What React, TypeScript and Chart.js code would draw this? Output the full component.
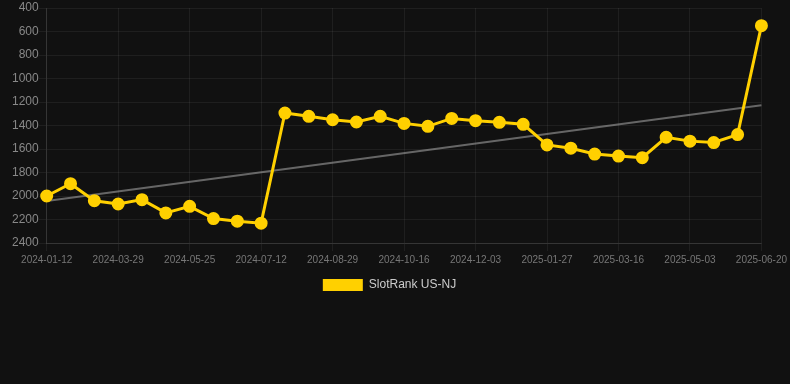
import React, { useEffect, useRef } from "react";
import { Chart, registerables } from "chart.js";

Chart.register(...registerables);

const dates: string[] = [
  "2024-01-12", "2024-02-06", "2024-03-03", "2024-03-29", "2024-04-17",
  "2024-05-06", "2024-05-25", "2024-06-10", "2024-06-26", "2024-07-12",
  "2024-07-28", "2024-08-13", "2024-08-29", "2024-09-14", "2024-09-30",
  "2024-10-16", "2024-11-01", "2024-11-17", "2024-12-03", "2024-12-21",
  "2025-01-09", "2025-01-27", "2025-02-12", "2025-02-28", "2025-03-16",
  "2025-04-01", "2025-04-17", "2025-05-03", "2025-05-19", "2025-06-04",
  "2025-06-20",
];

const rankValues: number[] = [
  2000, 1895, 2040, 2068, 2031, 2144, 2088, 2192, 2214, 2231,
  1294, 1322, 1351, 1370, 1322, 1382, 1407, 1340, 1359, 1373,
  1390, 1565, 1593, 1643, 1660, 1674, 1500, 1533, 1545, 1477,
  550,
];

const trendStart = 2043;
const trendEnd = 1227;

const seriesLabel = "SlotRank US-NJ";

const FONT = "Liberation Sans, Arial, Helvetica, sans-serif";

export default function App() {
  const ref = useRef<HTMLCanvasElement | null>(null);

  useEffect(() => {
    document.documentElement.style.background = "#111111";
    document.body.style.background = "#111111";
    document.body.style.margin = "0";
    if (!ref.current) return;
    const chart = new Chart(ref.current, {
      type: "line",
      data: {
        labels: dates,
        datasets: [
          {
            label: seriesLabel,
            data: rankValues,
            borderColor: "#FFD000",
            backgroundColor: "#FFD000",
            pointBackgroundColor: "#FFD000",
            pointBorderColor: "#FFD000",
            borderWidth: 3,
            pointRadius: 5,
            tension: 0,
          },
          {
            label: "trend",
            data: [
              { x: dates[0], y: trendStart },
              { x: dates[dates.length - 1], y: trendEnd },
            ] as any,
            borderColor: "rgba(160,160,160,0.6)",
            backgroundColor: "rgba(160,160,160,0.6)",
            borderWidth: 2,
            pointRadius: 0,
          },
        ],
      },
      options: {
        animation: false,
        responsive: true,
        maintainAspectRatio: false,
        layout: { padding: { left: 12, top: 0, right: 23, bottom: 0 } },
        plugins: {
          legend: {
            position: "bottom",
            labels: {
              color: "#cccccc",
              font: { size: 12, family: FONT },
              boxWidth: 40,
              boxHeight: 12,
              generateLabels: (c) =>
                Chart.defaults.plugins.legend.labels
                  .generateLabels(c)
                  .filter((l) => l.text !== "trend")
                  .map((l) => ({ ...l, lineWidth: 0 })),
            },
          },
          tooltip: { enabled: false },
        },
        scales: {
          x: {
            grid: { color: "rgba(255,255,255,0.06)" },
            border: { color: "rgba(255,255,255,0.1)" },
            ticks: {
              color: "#777777",
              autoSkip: false,
              maxRotation: 0,
              font: { size: 10, family: FONT },
              callback: (_v, i) => (i % 3 === 0 ? dates[i] : null),
            },
          },
          y: {
            reverse: true,
            min: 400,
            max: 2400,
            grid: { color: "rgba(255,255,255,0.06)" },
            border: { color: "rgba(255,255,255,0.1)" },
            ticks: {
              stepSize: 200,
              padding: 0,
              color: "#888888",
              font: { size: 12, family: FONT },
              callback: (v) => String(v),
            },
          },
        },
      },
    });
    return () => chart.destroy();
  }, []);

  return (
    <div style={{ width: 790, height: 301, position: "relative" }}>
      <canvas ref={ref} />
    </div>
  );
}
